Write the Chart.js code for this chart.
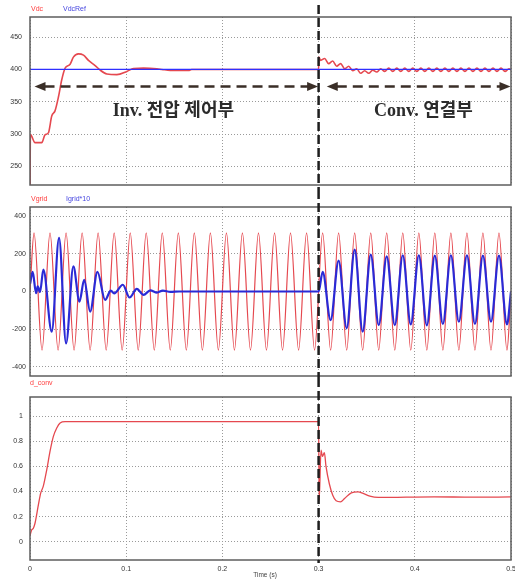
<!DOCTYPE html>
<html lang="ko">
<head>
<meta charset="UTF-8">
<title>Vdc / Vgrid / d_conv</title>
<script src="https://cdn.jsdelivr.net/npm/chart.js"></script>
<style>
  body { margin: 0; background: #fff; }
  #wrap { position: relative; width: 515px; height: 580px; }
  canvas { position: absolute; left: 0; }
</style>
</head>
<body>
<div id="wrap">
  <canvas id="c1" width="515" height="190" style="top:0"></canvas>
  <canvas id="c2" width="515" height="188" style="top:190px"></canvas>
  <canvas id="c3" width="515" height="202" style="top:378px"></canvas>
</div>
<script>
// time axis (s)
const timeTicks = [0, 0.1, 0.2, 0.3, 0.4, 0.5];
const switchTime = 0.3;

// panel 1: Vdc / VdcRef
const vdcTicks = [250, 300, 350, 400, 450];
const vdcT = [0, 0.0004, 0.0017, 0.0052, 0.0122, 0.0156, 0.0191, 0.0226, 0.0260, 0.0295,
  0.0330, 0.0365, 0.0417, 0.0451, 0.0503, 0.0556, 0.0608, 0.0677, 0.0729, 0.0799,
  0.0903, 0.1007, 0.1076, 0.1180, 0.1319, 0.1371, 0.1458, 0.1649, 0.1680, 0.3000, 0.3003,
  0.3021, 0.3063, 0.3104, 0.3146, 0.3188, 0.3229, 0.3271, 0.3313, 0.3354, 0.3396,
  0.3438, 0.3479, 0.3521, 0.3563, 0.3604, 0.3646, 0.3688, 0.3729, 0.3771, 0.3813,
  0.3854, 0.3896, 0.3938, 0.3979, 0.4021, 0.4063, 0.4104, 0.4146, 0.4188, 0.4229,
  0.4271, 0.4313, 0.4354, 0.4396, 0.4438, 0.4479, 0.4521, 0.4563, 0.4604, 0.4646,
  0.4688, 0.4729, 0.4771, 0.4813, 0.4854, 0.4896, 0.4938, 0.4979, 0.5000];
const vdcV = [200, 300, 297, 287, 287, 299, 302, 328, 336, 357,
  384, 402, 408, 419, 424, 422, 414, 406, 399, 393,
  392, 397, 401.5, 402, 401, 400, 398.5, 398.5, 400, 400, 419,
  414, 417, 409, 413, 405, 409, 401, 405, 398, 401,
  394, 398, 394, 399, 396, 401, 397, 402, 397, 402,
  397, 402, 397, 402, 397, 402, 397, 402, 397, 402,
  397, 402, 397, 402, 397, 402, 397, 402, 397, 402,
  397, 402, 397, 402, 397, 402, 397, 401, 399.5];
const vdcRefT = [0, 0.5];
const vdcRefV = [400, 400];

// panel 2: Vgrid / Igrid*10
const gridTicks = [-400, -200, 0, 200, 400];
const vgridT = [0,
  0.0042, 0.0125, 0.0208, 0.0292, 0.0375, 0.0458, 0.0542, 0.0625, 0.0708, 0.0792,
  0.0875, 0.0958, 0.1042, 0.1125, 0.1208, 0.1292, 0.1375, 0.1458, 0.1542, 0.1625,
  0.1708, 0.1792, 0.1875, 0.1958, 0.2042, 0.2125, 0.2208, 0.2292, 0.2375, 0.2458,
  0.2542, 0.2625, 0.2708, 0.2792, 0.2875, 0.2958, 0.3042, 0.3125, 0.3208, 0.3292,
  0.3375, 0.3458, 0.3542, 0.3625, 0.3708, 0.3792, 0.3875, 0.3958, 0.4042, 0.4125,
  0.4208, 0.4292, 0.4375, 0.4458, 0.4542, 0.4625, 0.4708, 0.4792, 0.4875, 0.4958,
  0.5];
const vgridV = [0,
  312, -312, 312, -312, 312, -312, 312, -312, 312, -312,
  312, -312, 312, -312, 312, -312, 312, -312, 312, -312,
  312, -312, 312, -312, 312, -312, 312, -312, 312, -312,
  312, -312, 312, -312, 312, -312, 312, -312, 312, -312,
  312, -312, 312, -312, 312, -312, 312, -312, 312, -312,
  312, -312, 312, -312, 312, -312, 312, -312, 312, -312,
  0];
const igridT = [0, 0.0028, 0.0063, 0.0080, 0.0104, 0.0139, 0.0226, 0.0302, 0.0375, 0.0451,
  0.0514, 0.0563, 0.0625, 0.0701, 0.0781, 0.0840, 0.0875, 0.0965, 0.1035, 0.1110,
  0.1180, 0.1250, 0.1320, 0.1380, 0.1460, 0.1550, 0.3000,
  0.3042, 0.3125, 0.3208, 0.3292, 0.3375, 0.3458, 0.3542, 0.3625, 0.3708, 0.3792,
  0.3875, 0.3958, 0.4042, 0.4125, 0.4208, 0.4292, 0.4375, 0.4458, 0.4542, 0.4625,
  0.4708, 0.4792, 0.4875, 0.4958, 0.5000];
const igridV = [40, 104, -9, 27, -4, 116, -214, 286, -277, 134,
  -54, 62, -107, 104, -45, 5, -10, 36, -32, 14,
  -18, 6, -6, 5, -2, 0, 0,
  104, -152, 164, -196, 223, -214, 196, -179, 187, -179,
  193, -175, 193, -180, 191, -173, 193, -161, 193, -173,
  191, -161, 191, -175, 0];

// panel 3: d_conv
const dTicks = [0, 0.2, 0.4, 0.6, 0.8, 1];
const dT = [0, 0.0017, 0.0035, 0.0052, 0.0087, 0.0111, 0.0139, 0.0174, 0.0208, 0.0243,
  0.0278, 0.0313, 0.0365, 0.3000, 0.3006, 0.3025, 0.3040, 0.3060, 0.3077, 0.3112,
  0.3147, 0.3182, 0.3228, 0.3270, 0.3340, 0.3410, 0.3463, 0.3533, 0.3620, 0.4200,
  0.4600, 0.5000];
const dV = [0.05, 0.093, 0.107, 0.147, 0.293, 0.387, 0.445, 0.573, 0.72, 0.84,
  0.907, 0.947, 0.957, 0.957, 0.33, 0.73, 0.68, 0.71, 0.60, 0.46,
  0.37, 0.326, 0.318, 0.345, 0.39, 0.398, 0.385, 0.363, 0.353, 0.358,
  0.355, 0.357];

const RED = '#e5484f';
const BLUE = '#2a2ad6';
const pts = (t, v) => t.map((x, i) => ({ x, y: v[i] }));

function line(t, v, color, width) {
  return { data: pts(t, v), borderColor: color, borderWidth: width, pointRadius: 0,
    cubicInterpolationMode: 'monotone', fill: false };
}

function overlay(cfg) {
  return {
    id: 'overlay' + cfg.id,
    afterDraw(chart) {
      const { ctx, chartArea: a, scales } = chart;
      ctx.save();
      ctx.setLineDash([]);
      ctx.strokeStyle = '#5e5e5e';
      ctx.lineWidth = 1.5;
      ctx.strokeRect(a.left, a.top, a.right - a.left, a.bottom - a.top);

      ctx.font = '7px "Liberation Sans", Arial, sans-serif';
      ctx.textBaseline = 'middle';
      ctx.textAlign = 'left';
      cfg.names.forEach(n => {
        ctx.fillStyle = n.color;
        ctx.fillText(n.text, n.x, cfg.nameY);
      });

      if (cfg.extra) cfg.extra(chart);

      // switching instant
      const xs = scales.x.getPixelForValue(switchTime);
      ctx.setLineDash([9, 4]);
      ctx.lineWidth = 2.5;
      ctx.strokeStyle = '#1e1e1e';
      ctx.beginPath();
      ctx.moveTo(xs, cfg.lineTop);
      ctx.lineTo(xs, cfg.lineBottom);
      ctx.stroke();
      ctx.restore();
    }
  };
}

function arrow(ctx, x1, x2, y) {
  const c = '#3a2e27';
  ctx.setLineDash([10, 6]);
  ctx.lineWidth = 2.5;
  ctx.strokeStyle = c;
  ctx.beginPath();
  ctx.moveTo(x1 + 10, y);
  ctx.lineTo(x2 - 10, y);
  ctx.stroke();
  ctx.setLineDash([]);
  ctx.fillStyle = c;
  ctx.beginPath();
  ctx.moveTo(x1, y); ctx.lineTo(x1 + 11, y - 4.5); ctx.lineTo(x1 + 11, y + 4.5);
  ctx.closePath(); ctx.fill();
  ctx.beginPath();
  ctx.moveTo(x2, y); ctx.lineTo(x2 - 11, y - 4.5); ctx.lineTo(x2 - 11, y + 4.5);
  ctx.closePath(); ctx.fill();
}

function options(p) {
  const gridStyle = { color: '#9a9a9a', lineWidth: 1, drawTicks: false };
  const border = { display: false, dash: [1, 2] };
  const tickFont = { family: '"Liberation Sans", Arial, sans-serif', size: 7 };
  return {
    responsive: false,
    animation: false,
    devicePixelRatio: 1,
    layout: { padding: { top: p.top, right: 4, bottom: p.bottom, left: 0 } },
    plugins: { legend: { display: false }, tooltip: { enabled: false } },
    scales: {
      x: {
        type: 'linear', min: 0, max: 0.5,
        afterBuildTicks: s => { s.ticks = timeTicks.map(v => ({ value: v })); },
        afterFit: s => { s.height = p.xHeight; s.paddingLeft = 0; s.paddingRight = 0; },
        grid: gridStyle, border,
        ticks: { display: p.xLabels, padding: 5, font: tickFont, color: '#333',
          maxRotation: 0, callback: v => String(v) }
      },
      y: {
        min: p.min, max: p.max,
        afterBuildTicks: s => { s.ticks = p.ticks.map(v => ({ value: v })); },
        afterFit: s => { s.width = 30; s.paddingTop = 0; s.paddingBottom = 0; },
        grid: gridStyle, border,
        ticks: { padding: p.yPad, font: tickFont, color: '#333', callback: v => String(v) }
      }
    }
  };
}

new Chart(document.getElementById('c1'), {
  type: 'line',
  data: { datasets: [line(vdcRefT, vdcRefV, '#2f2fff', 1.2), line(vdcT, vdcV, RED, 1.6)] },
  options: options({ top: 17, bottom: 5, xHeight: 0, xLabels: false,
    min: 221.5, max: 481, ticks: vdcTicks, yPad: 8 }),
  plugins: [overlay({
    id: 1, nameY: 9, lineTop: 5, lineBottom: 190,
    names: [{ text: 'Vdc', x: 31, color: '#ff3b3b' }, { text: 'VdcRef', x: 63, color: '#4646e0' }],
    extra(chart) {
      const { ctx, scales } = chart;
      const y = scales.y.getPixelForValue(373.7);
      arrow(ctx, scales.x.getPixelForValue(0.0047), scales.x.getPixelForValue(0.2995), y);
      arrow(ctx, scales.x.getPixelForValue(0.3085), scales.x.getPixelForValue(0.4995), y);
      ctx.font = 'bold 18px "Liberation Serif", "Noto Sans CJK KR", serif';
      ctx.fillStyle = '#2b2b2b';
      ctx.textAlign = 'center';
      ctx.textBaseline = 'middle';
      const ty = scales.y.getPixelForValue(336);
      ctx.fillText('Inv. 전압 제어부', scales.x.getPixelForValue(0.149), ty);
      ctx.fillText('Conv. 연결부', scales.x.getPixelForValue(0.409), ty);
    }
  })]
});

new Chart(document.getElementById('c2'), {
  type: 'line',
  data: { datasets: [line(igridT, igridV, BLUE, 2.2), line(vgridT, vgridV, RED, 1.2)] },
  options: options({ top: 17, bottom: 2, xHeight: 0, xLabels: false,
    min: -450, max: 450, ticks: gridTicks, yPad: 4 }),
  plugins: [overlay({
    id: 2, nameY: 9, lineTop: 0, lineBottom: 188,
    names: [{ text: 'Vgrid', x: 31, color: '#ff3b3b' }, { text: 'Igrid*10', x: 66, color: '#4646e0' }]
  })]
});

new Chart(document.getElementById('c3'), {
  type: 'line',
  data: { datasets: [line(dT, dV, RED, 1.3)] },
  options: options({ top: 19, bottom: 0, xHeight: 20, xLabels: true,
    min: -0.146, max: 1.154, ticks: dTicks, yPad: 7 }),
  plugins: [overlay({
    id: 3, nameY: 5, lineTop: 0, lineBottom: 185,
    names: [{ text: 'd_conv', x: 30, color: '#ff3b3b' }],
    extra(chart) {
      const { ctx } = chart;
      ctx.font = '6.5px "Liberation Sans", Arial, sans-serif';
      ctx.fillStyle = '#444';
      ctx.textAlign = 'center';
      ctx.fillText('Time (s)', 265, 197);
    }
  })]
});
</script>
</body>
</html>
